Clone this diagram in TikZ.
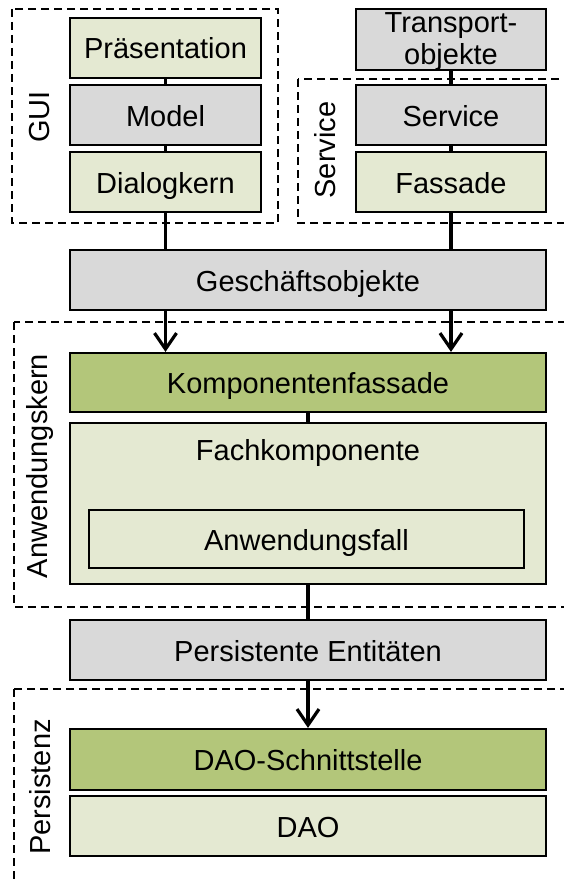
\documentclass[tikz,border=0pt]{standalone}
\usepackage{fontspec}
\setmainfont{Liberation Sans}
\usetikzlibrary{arrows.meta}
\definecolor{lightolive}{HTML}{E4E9D2}
\definecolor{darkolive}{HTML}{B3C67A}
\definecolor{boxgray}{HTML}{D9D9D9}
\begin{document}
\begin{tikzpicture}[x=1pt,y=1pt,
  txt/.style={inner sep=0pt, align=center, text height=28pt, text depth=6pt,
    font=\fontsize{29}{31}\selectfont},
  layer/.style={txt, draw=black, line width=2.2pt},
  lightbox/.style={layer, fill=lightolive},
  darkbox/.style={layer, fill=darkolive},
  graybox/.style={layer, fill=boxgray},
  plainbox/.style={layer, fill=none},
  group/.style={draw=black, line width=1.6pt, dash pattern=on 8pt off 5pt},
  grouplabel/.style={rotate=90, inner sep=0pt, font=\fontsize{29}{31}\selectfont},
  link/.style={line width=3.2pt},
  flow/.style={line width=3.2pt, -{Straight Barb[length=16pt, width=22pt, line width=3.2pt]}},
  caption/.style={inner sep=0pt, align=center, font=\fontsize{29}{31}\selectfont}]
\useasboundingbox (0,0) rectangle (564,-883);
\clip (0,0) rectangle (564,-883);

% dashed group frames
\draw[group] (12,-9) rectangle (278,-223);
\draw[group] (298,-79) rectangle (590,-223);
\draw[group] (14,-322) rectangle (590,-607);
\draw[group] (14,-689) rectangle (590,-910);

\node[grouplabel] (guilbl) at (40,-117) {GUI};
\node[grouplabel] (svclbl) at (325,-150) {Service};
\node[grouplabel] (akernlbl) at (40,-466) {Anwendungskern};
\node[grouplabel] (perslbl) at (40,-787) {Persistenz};

% GUI column
\node[lightbox, minimum width=191pt, minimum height=60pt] (pres) at (165.5,-48) {Präsentation};
\node[graybox, minimum width=191pt, minimum height=60pt] (model) at (165.5,-115) {Model};
\node[lightbox, minimum width=191pt, minimum height=60pt] (dialog) at (165.5,-182) {Dialogkern};

% service column
\node[graybox, minimum width=190pt, minimum height=61pt] (transport) at (451,-39.5) {};
\node[caption] (transportlbl) at (451,-42) {Transport-\\[1pt]objekte};
\node[graybox, minimum width=190pt, minimum height=60pt] (service) at (451,-115) {Service};
\node[lightbox, minimum width=190pt, minimum height=60pt] (fassade) at (451,-182) {Fassade};

% core
\node[graybox, minimum width=476pt, minimum height=60pt] (gesch) at (308,-280) {Geschäftsobjekte};
\node[darkbox, minimum width=476pt, minimum height=59pt] (kfass) at (308,-382.5) {Komponentenfassade};
\node[lightbox, minimum width=476pt, minimum height=161pt] (fach) at (308,-503.5) {};
\node[txt] (fachlbl) at (308,-449.5) {Fachkomponente};
\node[plainbox, minimum width=435pt, minimum height=58pt] (fall) at (306.5,-539) {Anwendungsfall};

% persistence
\node[graybox, minimum width=476pt, minimum height=60pt] (pent) at (308,-650) {Persistente Entitäten};
\node[darkbox, minimum width=476pt, minimum height=61pt] (dao-if) at (308,-759.5) {DAO-Schnittstelle};
\node[lightbox, minimum width=476pt, minimum height=60pt] (dao) at (308,-826) {DAO};

% connectors
\draw[link] (pres.south) -- (model.north);
\draw[link] (model.south) -- (dialog.north);
\draw[link] (transport.south) -- (service.north);
\draw[link] (service.south) -- (fassade.north);
\draw[link] (dialog.south) -- (dialog.south |- gesch.north);
\draw[link] (fassade.south) -- (fassade.south |- gesch.north);
\draw[flow] (dialog.south |- gesch.south) -- (dialog.south |- kfass.north);
\draw[flow] (fassade.south |- gesch.south) -- (fassade.south |- kfass.north);
\draw[link] (kfass.south) -- (fach.north);
\draw[link] (fach.south) -- (pent.north);
\draw[flow] (pent.south) -- (dao-if.north);
\end{tikzpicture}
\end{document}
